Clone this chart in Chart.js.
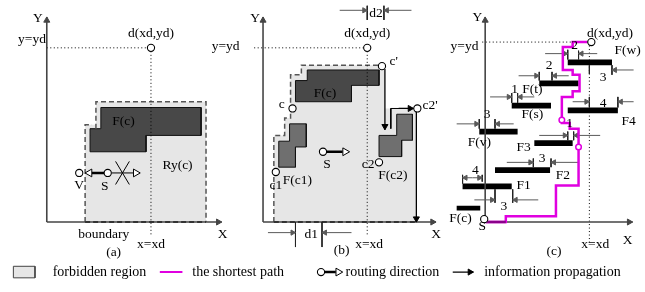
<!DOCTYPE html>
<html><head><meta charset="utf-8">
<script src="https://cdn.jsdelivr.net/npm/chart.js@4/dist/chart.umd.min.js"></script>
<style>html,body{margin:0;padding:0;background:#fff}canvas{display:block}</style>
</head><body>
<canvas id="c" width="645" height="292"></canvas>
<script>
// ================= DATA (diagram units) =================
// panel (a)
const regionA = [[81,225],[81,124],[92,124],[92,100],[204,100],[204,225]];
const dashA   = [[81,225],[81,124],[88,124]];
const dashA2  = [[92,128],[92,100],[204,100],[204,225]];
const darkA   = [[97,106],[199,106],[199,135],[143,135],[143,152],[86,152],[86,128],[97,128]];
// panel (b)
const regionB = [[273,225],[273,135],[284,135],[284,117],[290,117],[290,72],[301,72],[301,62],[386,62],[386,107],[418,107],[418,225]];
const dashB   = [[273,225],[273,135],[284,135],[284,117],[290,117],[290,72],[301,72],[301,62],[383,62]];
const darkB   = [[307,67],[380,67],[380,83],[352,83],[352,100],[295,100],[295,78],[307,78]];
const fc1     = [[289,123],[306,123],[306,147],[295,147],[295,168],[278,168],[278,141],[289,141]];
const fc2     = [[398,113],[414,113],[414,140],[403,140],[403,157],[380,157],[380,135],[398,135]];
const edgeB   = [[415,107],[392,107],[392,128]];
// panel (c) bars: [left, top, right, bottom]
const barsC = [[459,208,483,213],[465,185,515,191],[498,168,554,174],[538,140,577,146],
               [482,128,521,134],[515,101,555,107],[543,78,583,84],[572,106,623,112],[572,56,617,62]];
const pathC = [[488,225],[509,225],[509,219],[560,219],[560,187],[583,187],[583,128],[574,128],[574,122],
               [566,122],[566,95],[577,95],[577,89],[584,89],[584,72],[577,72],[577,67],[567,67],[567,43],
               [577,43],[577,38],[592,38]];
const pathMarks = [[583,147],[566,119]];
// axes [x1,y1,x2,y2] (arrow at end)
const axes = [[42,225,42,12],[42,225,220,225],[262,225,262,12],[262,225,438,225],[488,225,488,12],[488,225,638,225]];
const axisDash = [[[81,225],[204,225]],[[273,225],[418,225]]];
const dotted = [[[42,44],[148,44]],[[148,44],[148,238]],[[253,44],[368,44]],[[368,44],[368,238]],[[485,38],[593,38]],[[594,38],[594,247]]];
const nodes = [[148,44],[75,174],[104,174],[368,44],[383,63],[292,107],[275,173],[380,163],[419,107],[323,152],[596,38],[487,222],[321,277]];
// information propagation arrows (filled heads)
const infoArrows = [[386,66,386,129],[418,110,418,225],[400,107,415,107],[455,277,476,277]];
// routing direction: [x1,y1,x2,y2] thick shaft + hollow head at end
const routeArrows = [[101,174,81,174],[327,152,350,152],[325,277,343,277]];
const thinRoute = [[108,174,137,174]];
const crossA = [[[112,162],[126,186]],[[126,162],[112,186]]];
// dimension arrows (grey) [x1,y1,x2,y2]
const dimArrows = [[340,5,368,5],[413,5,385,5],[267,236,295,236],[352,236,322,236],
  [477,202,498,202],[542,202,516,202],[510,163,537,163],[583,163,555,163],[543,135,572,135],[605,135,578,135],
  [459,123,482,123],[517,123,498,123],[493,95,515,95],[538,95,521,95],[522,73,543,73],[573,73,556,73],
  [577,100,594,100],[639,100,623,100],[549,50,572,50],[602,50,583,50],[639,67,617,67],[475,179,465,179],[475,179,485,179]];
const dimTicks = [[[368,0],[368,15]],[[385,0],[385,15]],[[295,225],[295,251]],[[322,225],[322,251]],
  [[498,191],[498,205]],[[516,191],[516,205]],[[465,176],[465,185]],[[485,176],[485,183]],
  [[537,159],[537,168]],[[555,159],[555,168]],[[572,131],[572,140]],[[578,131],[578,140]],
  [[482,118],[482,128]],[[498,118],[498,128]],[[515,91],[515,101]],[[521,91],[521,101]],
  [[543,69],[543,78]],[[556,69],[556,78]],[[594,95],[594,106]],[[623,95],[623,106]],
  [[572,46],[572,56]],[[583,47],[583,56]],[[594,62],[594,71]],[[617,62],[617,72]]];
// legend items
const legendBox = [[8,271],[30,271],[30,283],[8,283]];
const legendPath = [[157,277],[180,277]];
// text labels [text, x, y]
const labels = [
 ['Y',33,13],['y=yd',27,35],['d(xd,yd)',148,29],['F(c)',120,120],['Ry(c)',175,166],['V',75,187],['S',101,188],
 ['boundary',100,238],['x=xd',148,248],['(a)',110,257],['X',221,238],
 ['Y',254,13],['y=yd',224,43],['d(xd,yd)',368,29],['d2',377,8],["c'",395,58],['F(c)',325,91],['c',281,103],
 ["c2'",432,104],['S',327,165],['c2',369,165],['F(c1)',297,182],['c1',275,187],['F(c2)',394,177],['d1',311,238],
 ['x=xd',370,248],['(b)',342,255],['X',438,238],
 ['Y',480,12],['y=yd',467,43],['d(xd,yd)',615,29],['F(w)',633,47],['2',579,42],['2',553,62],['3',608,75],
 ['1',518,87],['F(t)',536,87],['F(s)',536,113],['4',608,102],['F4',634,121],['3',490,113],['1',574,123],
 ['F(v)',482,142],['F3',527,147],['3',546,159],['F2',567,177],['4',478,171],['F1',527,187],['3',507,209],
 ['F(c)',463,221],['S',485,230],['X',633,244],['x=xd',600,248],['(c)',558,256]];
const legendLabels = [['forbidden region',48,277],['the shortest path',190,277],['routing direction',346,277],['information propagation',487,277]];

// ================= BUILD =================
const ds = [];
const P = a => a.map(p => ({x:p[0], y:p[1]}));
function addPoly(a, bg, bc, bw){ ds.push({data:P([...a, a[0]]), fill:'shape', backgroundColor:bg, borderColor:bc||'rgba(0,0,0,0)', borderWidth:bw||0, pointRadius:0}); }
function addLine(a, c, w, dash){ ds.push({data:P(a), fill:false, borderColor:c, borderWidth:w, borderDash:dash||[], pointRadius:0}); }
function addMarks(a, style, r, rot, bg, bc, bw){ ds.push({data:P(a), showLine:false, fill:false, pointStyle:style, pointRadius:r, pointRotation:rot, pointBackgroundColor:bg, pointBorderColor:bc, pointBorderWidth:bw}); }
function head(x1,y1,x2,y2,r,bg,bc,bw){
  const dx=x2-x1, dy=y2-y1, L=Math.hypot(dx,dy), ux=dx/L, uy=dy/L;
  const rot = Math.atan2(dx,-dy)*180/Math.PI;
  addMarks([[x2-ux*r, y2-uy*r]], 'triangle', r, rot, bg, bc, bw);
}
const AX='#454545', GR='#5a5a5a', MAG='#e000e0';

addPoly(regionA,'#e6e6e6'); addPoly(regionB,'#e6e6e6');
addPoly(darkA,'#484848','#111',1); addPoly(darkB,'#484848','#111',1);
addPoly(fc1,'#6f6f6f','#111',1); addPoly(fc2,'#6f6f6f','#111',1);
barsC.forEach(b => addPoly([[b[0],b[1]],[b[2],b[1]],[b[2],b[3]],[b[0],b[3]]],'#000'));
[dashA,dashA2,dashB].forEach(a => addLine(a,'#555',1.5,[5,3]));
dotted.forEach(a => addLine(a,'#000',1,[1,2.5]));
axes.forEach(a => { addLine([[a[0],a[1]],[a[2],a[3]]],AX,1.6); head(a[0],a[1],a[2],a[3],3.5,AX,AX,1); });
axisDash.forEach(a => addLine(a,'#333',2,[5,3]));
addLine(edgeB,'#000',1);
dimTicks.forEach(a => addLine(a,'#222',1));
dimArrows.forEach(a => { addLine([[a[0],a[1]],[a[2],a[3]]],GR,1); head(a[0],a[1],a[2],a[3],3,GR,GR,1); });
crossA.forEach(a => addLine(a,'#000',1));
thinRoute.forEach(a => { addLine([[a[0],a[1]],[a[2]-6,a[3]]],'#000',1); head(a[0],a[1],a[2],a[3],4.5,'#fff','#000',1); });
routeArrows.forEach(a => { const s=Math.sign(a[2]-a[0]); addLine([[a[0],a[1]],[a[2]-s*7,a[3]]],'#000',2.5); head(a[0],a[1],a[2],a[3],4.5,'#fff','#000',1); });
infoArrows.forEach(a => { addLine([[a[0],a[1]],[a[2],a[3]]],'#000',1.3); head(a[0],a[1],a[2],a[3],3.5,'#000','#000',1); });
addLine(pathC,MAG,2.5); addLine([[489,225],[509,225]],'#8a008a',2.5);
addMarks(pathMarks,'circle',2.8,0,'#fff',MAG,1.5);
addMarks(nodes,'circle',3.6,0,'#fff','#000',1.1);
addPoly(legendBox,'#e6e6e6','#444',1);
addLine(legendPath,MAG,2);
ds.forEach((d,i) => { d.order = -i; d.tension = 0; });

const textPlugin = {
  id:'texts',
  afterDatasetsDraw(chart){
    const {ctx, scales:{x,y}} = chart;
    ctx.save();
    ctx.fillStyle='#000'; ctx.textBaseline='middle';
    ctx.font='13.5px "Liberation Serif"'; ctx.textAlign='center';
    labels.forEach(([t,px,py]) => ctx.fillText(t, x.getPixelForValue(px), y.getPixelForValue(py)));
    ctx.textAlign='left'; ctx.font='14px "Liberation Serif"';
    legendLabels.forEach(([t,px,py]) => ctx.fillText(t, x.getPixelForValue(px), y.getPixelForValue(py)));
    ctx.restore();
  }
};

new Chart(document.getElementById('c'), {
  type:'line',
  data:{datasets:ds},
  options:{
    responsive:false, animation:false, devicePixelRatio:1,
    layout:{padding:0},
    plugins:{legend:{display:false}, tooltip:{enabled:false}},
    events:[],
    scales:{
      x:{type:'linear', min:0, max:645, display:false},
      y:{type:'linear', min:0, max:292, reverse:true, display:false}
    }
  },
  plugins:[textPlugin]
});
</script>
</body></html>
